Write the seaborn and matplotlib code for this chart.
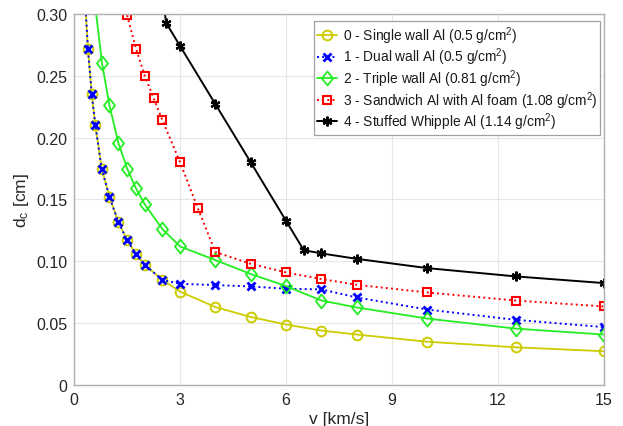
import numpy as np
import pandas as pd
import matplotlib
matplotlib.use("Agg")
import matplotlib.pyplot as plt
from matplotlib.path import Path
import seaborn as sns

# ---- data ----
v0 = [0.25, 0.39, 0.5, 0.6, 0.78, 1.0, 1.25, 1.5, 1.75, 2.0, 2.5, 3, 4, 5, 6, 7, 8, 10, 12.5, 15]
d0 = [0.34, 0.272, 0.235, 0.21, 0.175, 0.152, 0.132, 0.117, 0.106, 0.097, 0.085, 0.0755, 0.063, 0.055, 0.0489, 0.044, 0.0408, 0.035, 0.0305, 0.0273]

v1 = [0.25, 0.39, 0.5, 0.6, 0.78, 1.0, 1.25, 1.5, 1.75, 2.0, 2.5, 3, 4, 5, 6, 7, 8, 10, 12.5, 15]
d1 = [0.34, 0.272, 0.235, 0.21, 0.175, 0.152, 0.132, 0.117, 0.106, 0.097, 0.085, 0.0818, 0.0808, 0.0797, 0.0778, 0.0773, 0.0708, 0.061, 0.0527, 0.0468]

v2 = [0.5, 0.79, 1.0, 1.25, 1.5, 1.75, 2.0, 2.5, 3, 4, 5, 6, 7, 8, 10, 12.5, 15]
d2 = [0.33, 0.260, 0.226, 0.196, 0.175, 0.159, 0.146, 0.126, 0.112, 0.101, 0.0897, 0.080, 0.0683, 0.0627, 0.0537, 0.0456, 0.0408]

v3 = [1.5, 1.75, 2.0, 2.25, 2.5, 3, 3.5, 4, 5, 6, 7, 8, 10, 12.5, 15]
d3 = [0.299, 0.272, 0.250, 0.232, 0.214, 0.180, 0.143, 0.1075, 0.098, 0.091, 0.0857, 0.081, 0.0748, 0.0683, 0.0635]

v4 = [2.5, 2.6, 3, 4, 5, 6, 6.5, 7, 8, 10, 12.5, 15]
d4 = [0.32, 0.293, 0.274, 0.227, 0.180, 0.1327, 0.109, 0.1064, 0.102, 0.0945, 0.0878, 0.0824]

labels = ["0 - Single wall Al (0.5 g/cm$^2$)",
          "1 - Dual wall Al (0.5 g/cm$^2$)",
          "2 - Triple wall Al (0.81 g/cm$^2$)",
          "3 - Sandwich Al with Al foam (1.08 g/cm$^2$)",
          "4 - Stuffed Whipple Al (1.14 g/cm$^2$)"]

xticks = [0, 3, 6, 9, 12, 15]
yticks = [0, 0.05, 0.10, 0.15, 0.20, 0.25, 0.30]
yticklabels = ["0", "0.05", "0.10", "0.15", "0.20", "0.25", "0.30"]

# ---- style ----
sns.set_style("white")
plt.rcParams['font.family'] = ['Liberation Sans', 'DejaVu Sans']
plt.rcParams['mathtext.fontset'] = 'custom'
plt.rcParams['mathtext.rm'] = 'Liberation Sans'
plt.rcParams['mathtext.it'] = 'Liberation Sans'

fig = plt.figure(figsize=(6.23, 4.27), dpi=100)
ax = fig.add_axes([0.119, 0.096, 0.8505, 0.869])

diamond = Path([(0, 1), (0.8, 0), (0, -1), (-0.8, 0), (0, 1)],
               [Path.MOVETO, Path.LINETO, Path.LINETO, Path.LINETO, Path.CLOSEPOLY])

styles = [
    dict(color="#CCCC00", linestyle="-", marker="o", markersize=7, markerfacecolor="none", markeredgewidth=1.4, linewidth=1.3),
    dict(color="#0000FF", linestyle=":", marker="x", markersize=5.5, markerfacecolor="none", markeredgewidth=2.0, linewidth=1.4),
    dict(color="#22EE22", linestyle="-", marker=diamond, markersize=10, markerfacecolor="none", markeredgewidth=1.3, linewidth=1.3),
    dict(color="#FF0000", linestyle=":", marker="s", markersize=6, markerfacecolor="none", markeredgewidth=1.5, linewidth=1.4),
    dict(color="#000000", linestyle="-", marker=(6, 2, 0), markersize=7, markeredgewidth=1.6, linewidth=1.4),
]

handles = []
for vx, dy, kw, lab in zip([v0, v1, v2, v3, v4], [d0, d1, d2, d3, d4], styles, labels):
    df = pd.DataFrame({"v": vx, "d": dy})
    n_before = len(ax.lines)
    sns.lineplot(data=df, x="v", y="d", ax=ax, sort=False, estimator=None, color=kw["color"])
    ln = ax.lines[n_before]
    ln.set(**kw)
    ln.set_markeredgecolor(kw["color"])
    ln.set_linestyle(kw["linestyle"])
    ln.set_label(lab)
    handles.append(ln)

ax.set_xlim(0, 15)
ax.set_ylim(0, 0.30)
ax.set_xticks(xticks)
ax.set_xticklabels([str(t) for t in xticks])
ax.set_yticks(yticks)
ax.set_yticklabels(yticklabels)
ax.grid(True, color="#e6e6e6", linewidth=0.8)
ax.set_axisbelow(True)
for s in ax.spines.values():
    s.set_color("#b0b0b0")
    s.set_linewidth(1.0)
ax.tick_params(axis="both", direction="in", length=4, color="#b0b0b0", labelsize=11.5, labelcolor="#262626", pad=5)
ax.set_xlabel("v [km/s]", fontsize=12.5, color="#262626", labelpad=3)
ax.set_ylabel("d$_{\\rm c}$ [cm]", fontsize=12.5, color="#262626", labelpad=4)

leg = ax.legend(handles=handles, labels=labels, loc="upper right", bbox_to_anchor=(0.993, 0.98), fontsize=9.9,
                frameon=True, fancybox=False, handlelength=1.5, handletextpad=0.4, borderpad=0.2,
                labelspacing=0.0, borderaxespad=0.0, framealpha=1.0)
leg.get_frame().set_edgecolor("#a0a0a0")
leg.get_frame().set_linewidth(0.9)
for t in leg.get_texts():
    t.set_color("#1a1a1a")

fig.savefig("out.png", dpi=100)
